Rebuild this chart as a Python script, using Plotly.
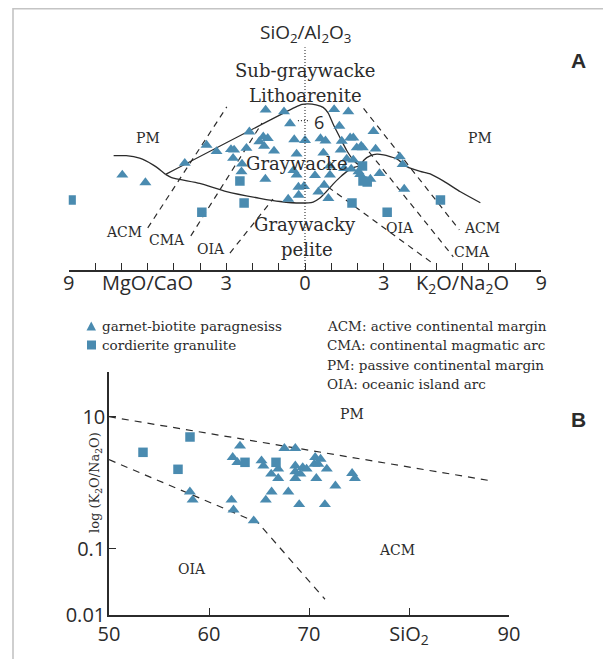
import plotly.graph_objects as go

# page (screenshot) is 611x659; the html body adds an 8 px margin, so the canvas is smaller
PAGE_OFF = 8
W, H = 611 - PAGE_OFF, 659 - PAGE_OFF

# ---------------- Panel A : SiO2/Al2O3 vs MgO/CaO (left) & K2O/Na2O (right) ----------------
# garnet-biotite paragneiss (triangles)
gb_a_x = [-6.96, -6.08, -4.58, -3.75, -3.37, -2.82, -2.70, -2.74, -1.50, -0.80, -0.57, -2.12,
          -1.74, -1.59, -1.42, -1.56, -1.18, -0.41, 0.00, 0.59, 0.78, -2.23, -2.40, -2.42,
          -0.32, 0.70, -1.51, -0.44, -0.32, 0.38, 0.95, 0.94, -0.25, -0.04, 0.51, 0.73,
          -0.24, -0.64, 0.89, 1.11, 1.65, 1.31, 2.61, 1.72, 1.84, 1.40, 1.36, 1.97,
          2.14, 2.20, 2.69, 1.59, 1.84, 1.76, 2.04, 2.10, 2.49, 2.84, 3.61, 3.72, 3.78, 1.49]
gb_a_y = [3.82, 3.51, 4.29, 5.02, 4.76, 4.84, 4.82, 4.49, 6.43, 6.36, 5.88, 5.55,
          5.16, 5.35, 5.29, 4.98, 4.78, 5.24, 5.21, 5.28, 5.19, 4.89, 4.26, 3.95,
          4.66, 4.70, 3.65, 4.00, 3.82, 3.80, 3.82, 4.18, 3.33, 3.36, 3.14, 3.41,
          3.01, 2.85, 2.88, 6.45, 6.36, 5.78, 5.57, 5.31, 5.31, 5.18, 4.82, 4.91,
          4.98, 4.91, 4.86, 4.46, 4.42, 4.06, 3.95, 3.84, 3.65, 3.88, 4.55, 4.24, 3.25, 4.08]
# cordierite granulite (squares)
cg_a_x = [-8.91, -3.93, -2.48, -2.32, 1.79, 2.19, 2.21, 2.37, 3.13, 5.16]
cg_a_y = [2.81, 2.32, 3.57, 2.69, 2.69, 4.18, 3.57, 3.53, 2.32, 2.81]

# solid boundaries
pm_left_x = [-7.29, -6.81, -6.30, -5.79, -5.47, -5.31]
pm_left_y = [4.59, 4.59, 4.49, 4.22, 3.98, 3.84]
lens_up_x = [-5.31, -0.38, -0.11, 0.11, 0.42, 0.69, 0.88, 1.07, 1.34, 1.60, 1.87, 2.10]
lens_up_y = [3.84, 6.53, 6.65, 6.67, 6.63, 6.53, 6.31, 5.86, 5.30, 4.78, 4.38, 4.18]
lens_lo_x = [-5.31, -5.08, -4.01, -2.99, -1.72, -0.95, -0.19, 0.31, 0.57, 0.80, 1.07, 1.34, 1.60, 1.87, 2.10]
lens_lo_y = [3.84, 3.71, 3.48, 3.15, 2.88, 2.75, 2.69, 2.73, 2.89, 3.13, 3.45, 3.73, 3.96, 4.12, 4.18]
pm_right_x = [2.10, 2.25, 2.48, 2.74, 2.99, 3.24, 3.50, 3.88, 4.39, 4.77, 5.28, 5.92, 6.68]
pm_right_y = [4.18, 4.42, 4.58, 4.65, 4.62, 4.55, 4.46, 4.15, 3.96, 3.86, 3.57, 3.14, 2.70]

# dashed boundaries
acm_l_x, acm_l_y = [-5.99, -2.98], [1.69, 6.55]
cma_l_x, cma_l_y = [-4.35, -1.64], [1.37, 5.90]
oia_l_x, oia_l_y = [-2.86, -1.22], [0.68, 2.85]
acm_r_x, acm_r_y = [2.23, 5.88], [6.49, 1.61]
cma_r_x, cma_r_y = [2.44, 5.65], [4.74, 0.53]
oia_r_x, oia_r_y = [0.88, 4.85], [3.33, 0.28]

a_tickvals = [-9, -6, -3, 0, 3, 6, 9]
a_ticktext = ["9", "MgO/CaO", "3", "0", "3", "K<sub>2</sub>O/Na<sub>2</sub>O", "9"]

# ---------------- Panel B : log(K2O/Na2O) vs SiO2 ----------------
gb_b_x = [63.1, 62.37, 62.84, 65.25, 65.44, 66.22, 66.92, 66.92, 67.54, 68.63, 68.63, 68.63,
          68.63, 69.14, 69.37, 69.76, 70.54, 70.62, 71.16, 70.93, 70.73, 71.78, 72.64, 74.31,
          74.59, 58.09, 58.36, 62.25, 62.45, 64.47, 65.68, 66.26, 67.93, 69.02, 71.59]
gb_b_y = [3.61, 2.43, 2.04, 2.16, 1.81, 1.36, 1.62, 1.17, 3.33, 3.33, 1.81, 1.47,
          1.17, 1.36, 1.71, 1.62, 1.92, 2.43, 2.29, 1.92, 1.17, 1.62, 0.90, 1.39,
          1.17, 0.73, 0.55, 0.55, 0.39, 0.267, 0.55, 0.73, 0.73, 0.47, 0.47]
cg_b_x = [53.4, 58.1, 56.9, 63.6, 66.7]
cg_b_y = [2.89, 4.93, 1.60, 2.04, 2.04]

pm_b_x, pm_b_y = [50, 88.4], [10, 1.06]
oia_b_x, oia_b_y = [50, 64.9, 71.6], [2.24, 0.248, 0.0173]

b_tickvals_x = [50, 60, 70, 80, 90]
b_ticktext_x = ["50", "60", "70", "SiO<sub>2</sub>", "90"]
b_tickvals_y = [0.01, 0.1, 10]
b_ticktext_y = ["0.01", "0.1", "10"]

# ---------------- styling ----------------
BLUE = "#4a8bb0"
INK = "#2b2b2b"
SANS = "Open Sans"
SERIF = "DejaVu Serif"

fig = go.Figure()

def marks(x, y, symbol, xa, ya, size):
    fig.add_trace(go.Scatter(x=x, y=y, mode="markers", xaxis=xa, yaxis=ya,
                             marker=dict(symbol=symbol, size=size, color=BLUE,
                                         line=dict(width=0)), hoverinfo="skip"))

def line(x, y, xa, ya, dash=None, width=1.3):
    fig.add_trace(go.Scatter(x=x, y=y, mode="lines", xaxis=xa, yaxis=ya,
                             line=dict(color=INK, width=width, dash=dash, shape="spline",
                                       smoothing=0.6), hoverinfo="skip"))

# panel A lines
for xs, ys in [(pm_left_x, pm_left_y), (lens_up_x, lens_up_y), (lens_lo_x, lens_lo_y),
               (pm_right_x, pm_right_y)]:
    line(xs, ys, "x", "y")
for xs, ys in [(acm_l_x, acm_l_y), (cma_l_x, cma_l_y), (oia_l_x, oia_l_y),
               (acm_r_x, acm_r_y), (cma_r_x, cma_r_y), (oia_r_x, oia_r_y)]:
    line(xs, ys, "x", "y", dash="6px,5px", width=1.2)
marks(gb_a_x, gb_a_y, "triangle-up", "x", "y", 10.5)
marks(cg_a_x, cg_a_y, "square", "x", "y", 9.5)

# panel B
line(pm_b_x, pm_b_y, "x2", "y2", dash="7px,6px", width=1.2)
fig.add_trace(go.Scatter(x=oia_b_x, y=oia_b_y, mode="lines", xaxis="x2", yaxis="y2",
                         line=dict(color=INK, width=1.2, dash="7px,6px"), hoverinfo="skip"))
marks(gb_b_x, gb_b_y, "triangle-up", "x2", "y2", 10.5)
marks(cg_b_x, cg_b_y, "square", "x2", "y2", 9.5)

def px_x(p):
    return (p - PAGE_OFF) / W

def px_y(p):
    return 1 - (p - PAGE_OFF) / H

tickfont = dict(family=SANS, size=20, color=INK)

fig.update_layout(
    width=W, height=H, margin=dict(l=0, r=0, t=0, b=0, autoexpand=False),
    paper_bgcolor="white", plot_bgcolor="rgba(0,0,0,0)", showlegend=False,
    xaxis=dict(domain=[px_x(68.75), px_x(541.25)], range=[-9, 9], anchor="y", automargin=False,
               showline=True, linecolor=INK, linewidth=1.5, ticks="inside", ticklen=7,
               tickcolor=INK, tickwidth=1.3, tickmode="array", tickvals=a_tickvals,
               ticktext=a_ticktext, tickfont=tickfont, showgrid=False, zeroline=False,
               ticklabelstandoff=-6,
               minor=dict(tickmode="linear", tick0=0, dtick=1, ticks="inside", ticklen=7,
                          tickcolor=INK, tickwidth=1.3, showgrid=False)),
    yaxis=dict(domain=[px_y(270), px_y(20)], range=[0, 10.04], anchor="x", visible=False,
               automargin=False),
    xaxis2=dict(domain=[px_x(109), px_x(509)], range=[50, 90], anchor="y2", automargin=False,
                showline=True, linecolor=INK, linewidth=1.5, ticks="inside", ticklen=7,
                tickcolor=INK, tickwidth=1.3, tickmode="array", tickvals=b_tickvals_x,
                ticktext=b_ticktext_x, tickfont=tickfont, showgrid=False, zeroline=False),
    yaxis2=dict(domain=[px_y(615), px_y(372)], type="log", range=[-2, 1.676], anchor="x2",
                automargin=False,
                showline=True, linecolor=INK, linewidth=1.5, ticks="inside", ticklen=7,
                tickcolor=INK, tickwidth=1.3, tickmode="array", tickvals=b_tickvals_y,
                ticktext=b_ticktext_y, tickfont=tickfont, showgrid=False, zeroline=False,
                ticklabelstandoff=-2),
)

shapes = []
# outer frame
shapes.append(dict(type="rect", xref="paper", yref="paper", x0=px_x(13), x1=px_x(609.5),
                   y0=-0.1, y1=px_y(8.8), line=dict(color="#c4c4c4", width=1.6)))
# vertical dotted SiO2/Al2O3 axis and "6" tick
shapes.append(dict(type="line", xref="x", yref="y", x0=0, x1=0, y0=0, y1=8.95,
                   line=dict(color=INK, width=1.1, dash="1px,2px")))
shapes.append(dict(type="line", xref="x", yref="y", x0=-0.27, x1=0.19, y0=6, y1=6,
                   line=dict(color=INK, width=1.1, dash="1px,2px")))
# legend symbols
shapes.append(dict(type="path", xref="paper", yref="paper",
                   path=f"M {px_x(86.5)},{px_y(330.5)} L {px_x(96)},{px_y(330.5)} L {px_x(91.25)},{px_y(321.5)} Z",
                   fillcolor=BLUE, line=dict(width=0)))
shapes.append(dict(type="rect", xref="paper", yref="paper", x0=px_x(87), x1=px_x(96),
                   y0=px_y(349.5), y1=px_y(340.5), fillcolor=BLUE, line=dict(width=0)))
fig.update_layout(shapes=shapes)

ann = []

def txt(text, x, y, size, family=SERIF, xref="x", yref="y", xanchor="center", angle=0, bold=False):
    if bold:
        text = f"<b>{text}</b>"
    ann.append(dict(text=text, x=x, y=y, xref=xref, yref=yref, showarrow=False,
                    xanchor=xanchor, yanchor="middle", textangle=angle,
                    font=dict(family=family, size=size, color=INK)))

# panel A labels
txt("SiO<sub>2</sub>/Al<sub>2</sub>O<sub>3</sub>", px_x(305), px_y(33.5), 19, SANS, "paper", "paper")
txt("Sub-graywacke", 0.0, 8.03, 18)
txt("Lithoarenite", 0.0, 7.0, 18)
txt("6", 0.52, 5.93, 18, SANS)
txt("Graywacke", -0.3, 4.27, 18)
txt("Graywacky", 0.0, 1.81, 18)
txt("pelite", 0.08, 0.83, 18)
txt("PM", -5.99, 5.3, 14)
txt("PM", 6.65, 5.3, 14)
txt("ACM", -6.9, 1.52, 14)
txt("CMA", -5.26, 1.2, 14)
txt("OIA", -3.6, 0.84, 14)
txt("OIA", 3.6, 1.68, 14)
txt("ACM", 6.75, 1.70, 14)
txt("CMA", 6.35, 0.72, 14)
txt("A", px_x(578), px_y(60), 21, "Liberation Sans", "paper", "paper", bold=True)

# legend text
txt("garnet-biotite paragnesiss", px_x(100), px_y(326), 13.5, SERIF, "paper", "paper", "left")
txt("cordierite granulite", px_x(100), px_y(345), 13.5, SERIF, "paper", "paper", "left")
for i, t in enumerate(["ACM: active continental margin", "CMA: continental magmatic arc",
                       "PM: passive continental margin", "OIA: oceanic island arc"]):
    txt(t, px_x(325), px_y(326 + 19.3 * i), 13.5, SERIF, "paper", "paper", "left")

# panel B labels
txt("PM", 74.3, 1.036, 14, SERIF, "x2", "y2")
txt("ACM", 78.8, -1.017, 14, SERIF, "x2", "y2")
txt("OIA", 58.3, -1.304, 14, SERIF, "x2", "y2")
txt("B", px_x(578), px_y(419), 21, "Liberation Sans", "paper", "paper", bold=True)
txt("log (K<sub>2</sub>O/Na<sub>2</sub>O)", px_x(95), px_y(483), 13, SERIF, "paper", "paper", angle=-90)

fig.update_layout(annotations=ann)

fig.write_html("out.html")
